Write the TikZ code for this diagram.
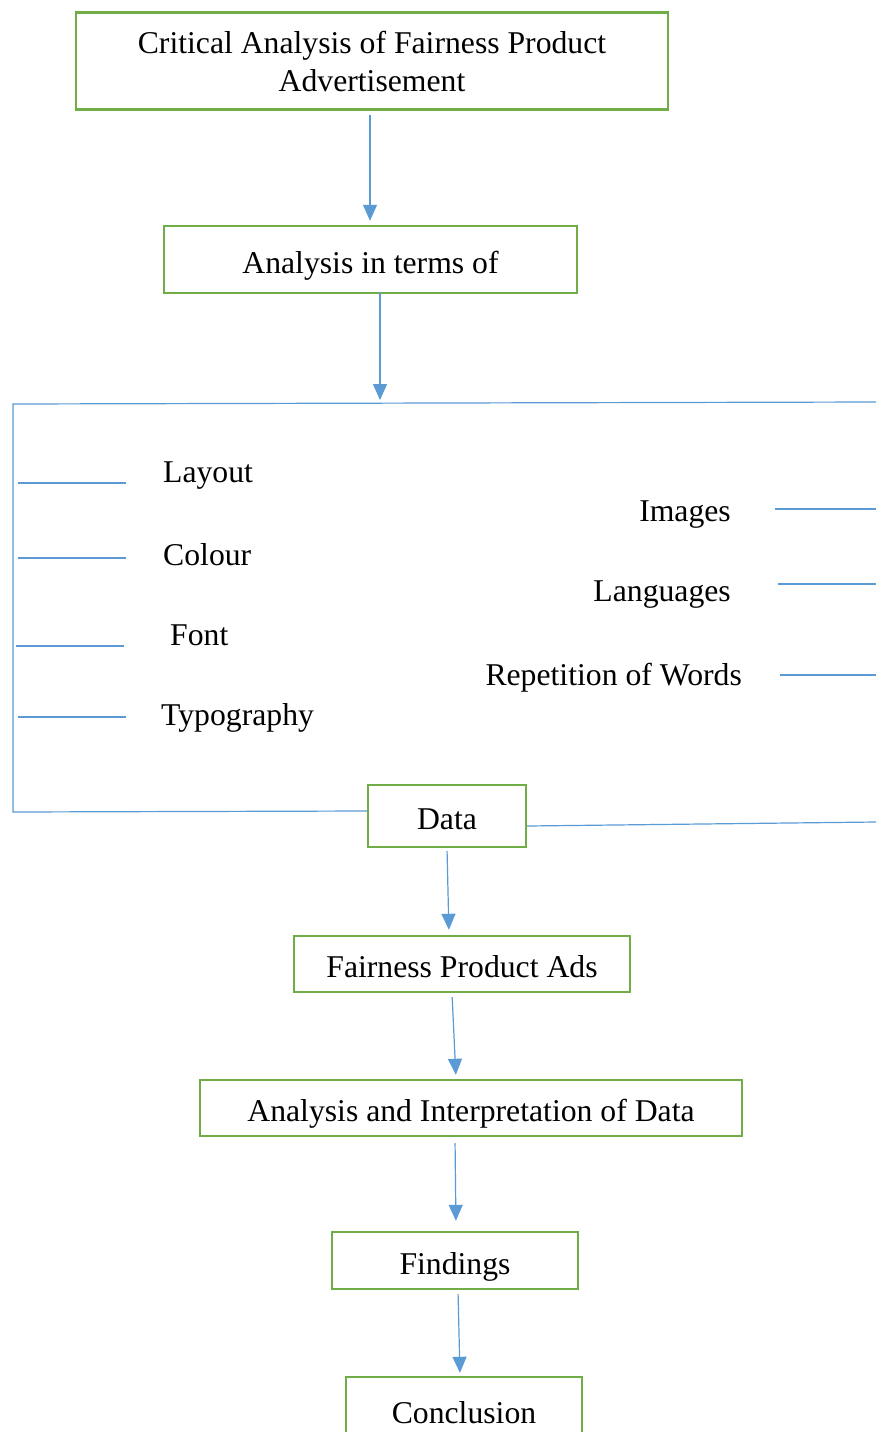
\documentclass[tikz,border=0pt]{standalone}
\usepackage{fontspec}
\setmainfont{Liberation Serif}
\usetikzlibrary{arrows.meta}
\definecolor{boxgreen}{HTML}{70AD47}
\definecolor{lineblue}{HTML}{5B9BD5}
\begin{document}
\begin{tikzpicture}[x=1pt,y=-1pt,
  font=\fontsize{31.7}{38}\selectfont,
  gbox/.style={draw=boxgreen,line width=2.4pt,rectangle,inner sep=0pt,align=center},
  onel/.style={text height=27pt,text depth=0pt},
  bl/.style={draw=lineblue,line width=1.2pt},
  arr/.style={bl,-{Triangle[width=14pt,length=16pt]}},
  lbl/.style={inner sep=0pt}]
\useasboundingbox (0,0) rectangle (876,1432);
\clip (0,0) rectangle (876,1432);
\fill[white] (0,0) rectangle (876,1432);

% boxes
\node[gbox,minimum width=592pt,minimum height=97pt] (top) at (372,61) {Critical Analysis of Fairness Product\\Advertisement};
\node[gbox,onel,minimum width=413pt,minimum height=67pt] (terms) at (370.5,259.5) {Analysis in terms of};
\node[gbox,onel,minimum width=158pt,minimum height=62pt] (data) at (447,816) {Data};
\node[gbox,onel,minimum width=336pt,minimum height=56pt] (fpa) at (462,964) {Fairness Product Ads};
\node[gbox,onel,minimum width=542pt,minimum height=56pt] (ai) at (471,1108) {Analysis and Interpretation of Data};
\node[gbox,onel,minimum width=246pt,minimum height=57pt] (find) at (455,1260.5) {Findings};
\node[gbox,onel,minimum width=236pt,minimum height=66pt] (concl) at (464,1410) {Conclusion};

% frame coordinates
\coordinate (tl) at (13,404);
\coordinate (tr) at (876,402);
\coordinate (bl) at (13,812);
\coordinate (br) at (876,822);
\coordinate (split) at (380,403);

% labels
\node[lbl,anchor=mid west] (layout) at (163,480) {Layout};
\node[lbl,anchor=mid west] (colour) at (163,563) {Colour};
\node[lbl,anchor=mid west] (font) at (170,643) {Font};
\node[lbl,anchor=mid west] (typo) at (161,723) {Typography};
\node[lbl,anchor=mid east] (images) at (731,519) {Images};
\node[lbl,anchor=mid east] (lang) at (731,599) {Languages};
\node[lbl,anchor=mid east] (rep) at (742,683) {Repetition of Words};

% arrows
\draw[arr,shorten <=4pt,shorten >=4pt] ([xshift=-2pt]top.south) -- ([xshift=-0.5pt]terms.north);
\draw[arr,shorten <=-2pt,shorten >=3pt] ([xshift=9.5pt]terms.south) -- (split);
\draw[arr,shorten <=3pt,shorten >=5pt] (data.south) -- ([xshift=-13pt]fpa.north);
\draw[arr,shorten <=4pt,shorten >=4pt] ([xshift=-10pt]fpa.south) -- ([xshift=-15pt]ai.north);
\draw[arr,shorten <=6pt,shorten >=10pt] ([xshift=-16pt]ai.south) -- ([xshift=1pt]find.north);
\draw[arr,shorten <=4pt,shorten >=3pt] ([xshift=3pt]find.south) -- ([xshift=-4pt]concl.north);

% frame
\draw[bl] (tr) -- (tl) -- (bl) -- ([yshift=5pt]data.west);
\draw[bl] ([yshift=-10pt]data.east) -- (br);

% stubs
\draw[bl] (18,483) -- (126,483);
\draw[bl] (18,558) -- (126,558);
\draw[bl] (16,646) -- (124,646);
\draw[bl] (18,717) -- (126,717);
\draw[bl] (775,509) -- (876,509);
\draw[bl] (778,584) -- (876,584);
\draw[bl] (780,675) -- (876,675);
\end{tikzpicture}
\end{document}
